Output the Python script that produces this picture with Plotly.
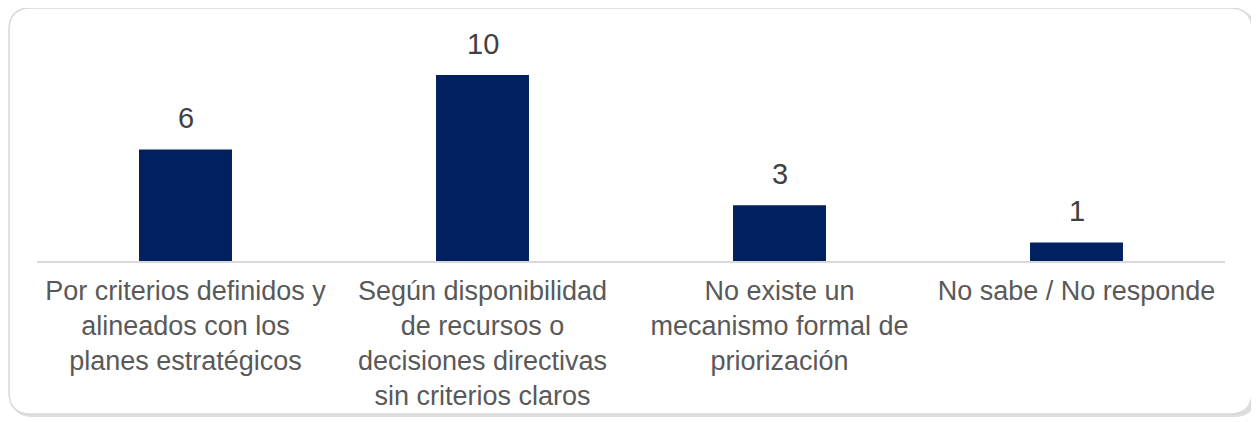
import plotly.graph_objects as go

categories = [
    "Por criterios definidos y<br>alineados con los<br>planes estratégicos",
    "Según disponibilidad<br>de recursos o<br>decisiones directivas<br>sin criterios claros",
    "No existe un<br>mecanismo formal de<br>priorización",
    "No sabe / No responde",
]
values = [6, 10, 3, 1]

# page body has an 8px margin; figure coords are offset by that
OFF = 8
W, H = 1259 - OFF, 422 - OFF
L, R = 37 - OFF, 1225 - OFF
BASE, TOP = 261 - OFF, 47 - OFF
YMAX = (BASE - TOP) / 18.6

def px(x):
    return (x - L) / (R - L)

def py(y):
    return (BASE - y) / (BASE - TOP)

def rrect(x0, y0, x1, y1, r):
    return (
        f"M {px(x0 + r)} {py(y0)} L {px(x1 - r)} {py(y0)} "
        f"Q {px(x1)} {py(y0)} {px(x1)} {py(y0 + r)} "
        f"L {px(x1)} {py(y1 - r)} "
        f"Q {px(x1)} {py(y1)} {px(x1 - r)} {py(y1)} "
        f"L {px(x0 + r)} {py(y1)} "
        f"Q {px(x0)} {py(y1)} {px(x0)} {py(y1 - r)} "
        f"L {px(x0)} {py(y0 + r)} "
        f"Q {px(x0)} {py(y0)} {px(x0 + r)} {py(y0)} Z"
    )

fig = go.Figure(
    go.Bar(
        x=categories,
        y=values,
        marker=dict(color="#002060", line=dict(width=0)),
        width=0.313,
        cliponaxis=False,
        hoverinfo="x+y",
    )
)

annotations = [
    dict(x=c, y=v, xref="x", yref="y", text=str(v), showarrow=False,
         yanchor="bottom", yshift=13,
         font=dict(family="Liberation Sans, Arial", size=29, color="#404040"))
    for c, v in zip(categories, values)
]

fig.update_layout(
    width=W,
    height=H,
    margin=dict(l=L, r=W - R, t=TOP, b=H - BASE),
    paper_bgcolor="white",
    plot_bgcolor="rgba(0,0,0,0)",
    showlegend=False,
    annotations=annotations,
    shapes=[
        dict(type="path", xref="paper", yref="paper", layer="below",
             path=rrect(3, 2, 1248, 409, 22),
             fillcolor="rgba(0,0,0,0.13)", line=dict(width=0)),
        dict(type="path", xref="paper", yref="paper", layer="below",
             path=rrect(1, 0, 1244, 406, 22),
             fillcolor="white", line=dict(color="#d9d9d9", width=1.5)),
    ],
)

fig.update_xaxes(
    showline=True, linecolor="#d9d9d9", linewidth=1.5,
    ticks="", showgrid=False, tickangle=0, ticklabelstandoff=5,
    tickfont=dict(family="Liberation Sans, Arial", size=27, color="#595959"),
)
fig.update_yaxes(range=[0, YMAX], visible=False, showgrid=False)

fig.write_html("out.html")
